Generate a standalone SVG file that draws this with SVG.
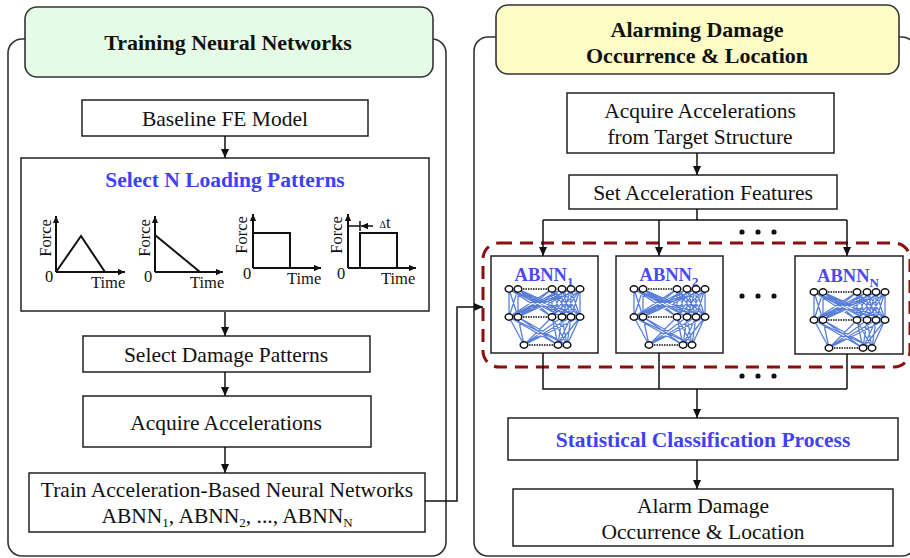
<svg xmlns="http://www.w3.org/2000/svg" xmlns:xlink="http://www.w3.org/1999/xlink" width="910" height="558" viewBox="0 0 910 558">
<style>
.panel{fill:#fff;stroke:#333;stroke-width:1.6}
.box{fill:#fff;stroke:#222;stroke-width:1.5}
.t{font-family:"Liberation Serif","Times New Roman",serif;font-size:21.5px;fill:#111;text-anchor:middle}
.tb{font-family:"Liberation Serif","Times New Roman",serif;font-size:22px;font-weight:bold;fill:#111;text-anchor:middle}
.blue{font-family:"Liberation Serif","Times New Roman",serif;font-size:21.5px;font-weight:bold;fill:#4040f8;text-anchor:middle}
.ab{font-family:"Liberation Serif","Times New Roman",serif;font-size:18.5px;font-weight:bold;fill:#4a4af0;text-anchor:middle}
.sm{font-family:"Liberation Serif","Times New Roman",serif;font-size:16.5px;fill:#111}
.conn{fill:none;stroke:#111;stroke-width:1.5}
.ax{fill:none;stroke:#111;stroke-width:2}
.dot{fill:#111}
</style>
<defs>
<marker id="ah" viewBox="0 0 10 10" refX="10" refY="5" markerWidth="9" markerHeight="9" markerUnits="userSpaceOnUse" orient="auto"><path d="M0,0.5 L10,5 L0,9.5 z" fill="#111"/></marker>
<marker id="sa" viewBox="0 0 10 10" refX="10" refY="5" markerWidth="7" markerHeight="7" markerUnits="userSpaceOnUse" orient="auto"><path d="M0,0.5 L10,5 L0,9.5 z" fill="#111"/></marker>
<g id="nn">
<path fill="none" stroke="#5a80d8" stroke-width="1.3" d="M18 33L18 61M18 33L27 61M18 33L61 61M18 33L71 61M18 33L80 61M18 33L89 61M27 33L18 61M27 33L27 61M27 33L61 61M27 33L71 61M27 33L80 61M27 33L89 61M61 33L18 61M61 33L27 61M61 33L61 61M61 33L71 61M61 33L80 61M61 33L89 61M71 33L18 61M71 33L27 61M71 33L61 61M71 33L71 61M71 33L80 61M71 33L89 61M80 33L18 61M80 33L27 61M80 33L61 61M80 33L71 61M80 33L80 61M80 33L89 61M89 33L18 61M89 33L27 61M89 33L61 61M89 33L71 61M89 33L80 61M89 33L89 61M18 61L33 89M18 61L67 89M18 61L76 89M27 61L33 89M27 61L67 89M27 61L76 89M61 61L33 89M61 61L67 89M61 61L76 89M71 61L33 89M71 61L67 89M71 61L76 89M80 61L33 89M80 61L67 89M80 61L76 89M89 61L33 89M89 61L67 89M89 61L76 89"/>
<path fill="none" stroke="#111" stroke-width="1.6" stroke-dasharray="1.5 1" d="M32 33L57 33M32 61L57 61M38 89L63 89"/>
<g fill="#fff" stroke="#111" stroke-width="1.5">
<ellipse cx="18" cy="33" rx="3.8" ry="3.2"/><ellipse cx="27" cy="33" rx="3.8" ry="3.2"/><ellipse cx="61" cy="33" rx="3.8" ry="3.2"/><ellipse cx="71" cy="33" rx="3.8" ry="3.2"/><ellipse cx="80" cy="33" rx="3.8" ry="3.2"/><ellipse cx="89" cy="33" rx="3.8" ry="3.2"/>
<ellipse cx="18" cy="61" rx="3.8" ry="3.2"/><ellipse cx="27" cy="61" rx="3.8" ry="3.2"/><ellipse cx="61" cy="61" rx="3.8" ry="3.2"/><ellipse cx="71" cy="61" rx="3.8" ry="3.2"/><ellipse cx="80" cy="61" rx="3.8" ry="3.2"/><ellipse cx="89" cy="61" rx="3.8" ry="3.2"/>
<ellipse cx="33" cy="89" rx="3.8" ry="3.2"/><ellipse cx="67" cy="89" rx="3.8" ry="3.2"/><ellipse cx="76" cy="89" rx="3.8" ry="3.2"/>
</g>
</g>
</defs>
<rect width="910" height="558" fill="#fff"/>

<g id="panel-training">
<rect class="panel" x="8" y="39" width="438" height="517" rx="14"/>
<rect x="25" y="7" width="408" height="70" rx="12" fill="#e5fbe5" stroke="#333" stroke-width="1.6"/>
<text class="tb" x="228" y="50">Training Neural Networks</text>
</g>

<g id="panel-alarming">
<rect class="panel" x="474" y="37" width="442" height="519" rx="14"/>
<rect x="496" y="5" width="403" height="69" rx="12" fill="#fdfbc6" stroke="#333" stroke-width="1.6"/>
<text class="tb" x="697" y="36.5">Alarming Damage</text>
<text class="tb" x="697" y="62.5">Occurrence &amp; Location</text>
</g>

<g id="baseline-fe">
<rect class="box" x="82" y="100" width="286" height="36"/>
<text class="t" x="225" y="126">Baseline FE Model</text>
</g>

<g id="select-loading">
<rect class="box" x="21" y="158" width="408" height="153"/>
<text class="blue" x="225" y="187">Select N Loading Patterns</text>
<path class="ax" d="M56 272L56 216" marker-end="url(#sa)"/>
<path class="ax" d="M56 272L125 272" marker-end="url(#sa)"/>
<path class="ax" d="M56 272L81 236L105 272"/>
<text class="sm" transform="translate(51,238) rotate(-90)" text-anchor="middle">Force</text>
<text class="sm" x="49" y="282" text-anchor="middle">0</text>
<text class="sm" x="91" y="288">Time</text>
<path class="ax" d="M155 272L155 216" marker-end="url(#sa)"/>
<path class="ax" d="M155 272L223 272" marker-end="url(#sa)"/>
<path class="ax" d="M155 235L200 272"/>
<text class="sm" transform="translate(150,238) rotate(-90)" text-anchor="middle">Force</text>
<text class="sm" x="148" y="282" text-anchor="middle">0</text>
<text class="sm" x="190" y="288">Time</text>
<path class="ax" d="M253 268L253 214" marker-end="url(#sa)"/>
<path class="ax" d="M253 268L321 268" marker-end="url(#sa)"/>
<path class="ax" d="M253 233L290 233L290 268"/>
<text class="sm" transform="translate(247,235) rotate(-90)" text-anchor="middle">Force</text>
<text class="sm" x="247" y="279" text-anchor="middle">0</text>
<text class="sm" x="287" y="284">Time</text>
<path class="ax" d="M348 268L348 214" marker-end="url(#sa)"/>
<path class="ax" d="M348 268L416 268" marker-end="url(#sa)"/>
<path class="ax" d="M360 268L360 233L397 233L397 268"/>
<path fill="none" stroke="#111" stroke-width="1.5" d="M348 226L360 226M360 221L360 231"/>
<path fill="none" stroke="#111" stroke-width="1.5" d="M373 226L361 226" marker-end="url(#sa)"/>
<text class="sm" transform="translate(342,235) rotate(-90)" text-anchor="middle">Force</text>
<text class="sm" x="341" y="279" text-anchor="middle">0</text>
<text class="sm" x="381" y="284">Time</text>
<text class="sm" x="385" y="228" text-anchor="middle"><tspan font-size="10">Δ</tspan>t</text>
</g>

<g id="select-damage">
<rect class="box" x="83" y="336" width="287" height="36"/>
<text class="t" x="226" y="362">Select Damage Patterns</text>
</g>

<g id="acquire-acc">
<rect class="box" x="83" y="396" width="288" height="51"/>
<text class="t" x="226" y="430">Acquire Accelerations</text>
</g>

<g id="train-abnn">
<rect class="box" x="29" y="473" width="396" height="59"/>
<text class="t" x="227" y="497">Train Acceleration-Based Neural Networks</text>
<text class="t" x="227" y="523">ABNN<tspan font-size="13" dy="4">1</tspan><tspan dy="-4">, ABNN</tspan><tspan font-size="13" dy="4">2</tspan><tspan dy="-4">, ..., ABNN</tspan><tspan font-size="13" dy="4">N</tspan></text>
</g>

<g id="acquire-target">
<rect class="box" x="567" y="93" width="267" height="60"/>
<text class="t" x="700" y="118">Acquire Accelerations</text>
<text class="t" x="700" y="144">from Target Structure</text>
</g>

<g id="set-features">
<rect class="box" x="569" y="175" width="268" height="34"/>
<text class="t" x="703" y="200">Set Acceleration Features</text>
</g>

<g id="abnn-group">
<rect x="483" y="243" width="427" height="124" rx="16" fill="none" stroke="#8b0f0f" stroke-width="3" stroke-dasharray="13 8"/>
</g>

<g id="abnn-1">
<rect class="box" x="491" y="256" width="107" height="97"/>
<text class="ab" x="544" y="281">ABNN<tspan font-size="13" dy="5">1</tspan></text>
<use xlink:href="#nn" href="#nn" x="491" y="256"/>
</g>

<g id="abnn-2">
<rect class="box" x="616" y="256" width="107" height="97"/>
<text class="ab" x="669" y="281">ABNN<tspan font-size="13" dy="5">2</tspan></text>
<use xlink:href="#nn" href="#nn" x="616" y="256"/>
</g>

<g id="abnn-n">
<rect class="box" x="795" y="256" width="108" height="98"/>
<text class="ab" x="848" y="282">ABNN<tspan font-size="13" dy="5">N</tspan></text>
<use xlink:href="#nn" href="#nn" x="796" y="259"/>
</g>

<g id="statistical">
<rect class="box" x="508" y="418" width="390" height="42"/>
<text class="blue" x="703" y="447">Statistical Classification Process</text>
</g>

<g id="alarm-damage">
<rect class="box" x="513" y="489" width="380" height="57"/>
<text class="t" x="703" y="513">Alarm Damage</text>
<text class="t" x="703" y="539">Occurrence &amp; Location</text>
</g>

<g id="connectors">
<path class="conn" d="M225 136L225 158" marker-end="url(#ah)"/>
<path class="conn" d="M225 312L225 336" marker-end="url(#ah)"/>
<path class="conn" d="M225 372L225 396" marker-end="url(#ah)"/>
<path class="conn" d="M225 447L225 473" marker-end="url(#ah)"/>
<path class="conn" d="M425 501L457 501L457 307L483 307" marker-end="url(#ah)"/>
<path class="conn" d="M697 153L697 175" marker-end="url(#ah)"/>
<path class="conn" d="M697 209L697 220M543 220L847 220"/>
<path class="conn" d="M543 220L543 256" marker-end="url(#ah)"/>
<path class="conn" d="M659 220L659 256" marker-end="url(#ah)"/>
<path class="conn" d="M847 220L847 256" marker-end="url(#ah)"/>
<path class="conn" d="M543 353L543 389L847 389M659 353L659 389M847 354L847 389"/>
<path class="conn" d="M697 389L697 418" marker-end="url(#ah)"/>
<path class="conn" d="M697 460L697 489" marker-end="url(#ah)"/>
<circle class="dot" cx="742" cy="232" r="2.6"/><circle class="dot" cx="758" cy="232" r="2.6"/><circle class="dot" cx="774" cy="232" r="2.6"/>
<circle class="dot" cx="742" cy="296" r="2.6"/><circle class="dot" cx="758" cy="296" r="2.6"/><circle class="dot" cx="774" cy="296" r="2.6"/>
<circle class="dot" cx="742" cy="376" r="2.6"/><circle class="dot" cx="758" cy="376" r="2.6"/><circle class="dot" cx="774" cy="376" r="2.6"/>
</g>
</svg>
